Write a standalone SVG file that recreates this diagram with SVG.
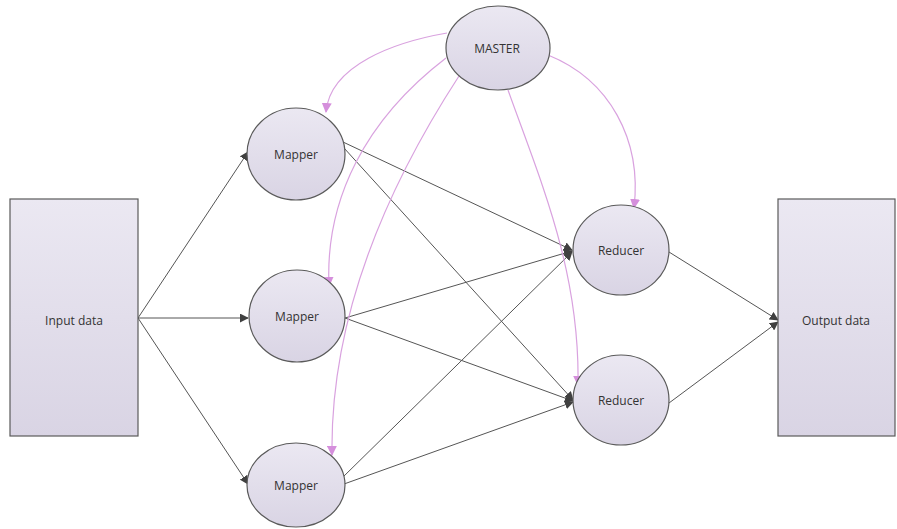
<svg xmlns="http://www.w3.org/2000/svg" width="897" height="529" viewBox="0 0 897 529">
<defs>
<linearGradient id="g" x1="0" y1="0" x2="0" y2="1">
<stop offset="0" stop-color="#ebe8f2"/>
<stop offset="1" stop-color="#d9d4e4"/>
</linearGradient>
<marker id="ab" viewBox="0 0 10 10" refX="9" refY="5" markerWidth="9" markerHeight="9" markerUnits="userSpaceOnUse" orient="auto">
<path d="M0,0 L10,5 L0,10 z" fill="#404040"/>
</marker>
<marker id="ap" viewBox="0 0 10 10" refX="9" refY="5" markerWidth="10" markerHeight="10" markerUnits="userSpaceOnUse" orient="auto">
<path d="M0,0 L10,5 L0,10 z" fill="#d58fdc"/>
</marker>
</defs>
<style>
.n{fill:url(#g);stroke:#5a5a5a;stroke-width:1.2}
.t{font-family:"Open Sans","Noto Sans",sans-serif;font-size:12px;fill:#333;text-anchor:middle;dominant-baseline:central}
.b{fill:none;stroke:#555;stroke-width:1;marker-end:url(#ab)}
.p{fill:none;stroke:#d9a2df;stroke-width:1.2;marker-end:url(#ap)}
</style>
<rect width="897" height="529" fill="#fff"/>
<g id="connectors">
<path class="b" d="M138,318 L248,152"/>
<path class="b" d="M138,318 L248,318"/>
<path class="b" d="M138,318 L248,484"/>
<path class="b" d="M343,142 L572,250"/>
<path class="b" d="M344,148 L573,400"/>
<path class="b" d="M345,318 L572,251"/>
<path class="b" d="M345,318 L573,401"/>
<path class="b" d="M342,478 L572,252"/>
<path class="b" d="M344,484 L573,402"/>
<path class="b" d="M669,252 L778,320"/>
<path class="b" d="M669,403 L778,322"/>
<path class="p" d="M447,33 C395,42 330,65 326,112"/>
<path class="p" d="M446,58 C365,120 325,200 329,286"/>
<path class="p" d="M459,76 C385,190 330,320 332,455"/>
<path class="p" d="M508,90 C540,180 580,270 578,385"/>
<path class="p" d="M548,55 C610,80 642,140 634,208"/>
</g>
<g id="input"><rect class="n" x="10" y="199" width="128" height="237"/><text class="t" x="74" y="320">Input data</text></g>
<g id="output"><rect class="n" x="778" y="199" width="117" height="237"/><text class="t" x="836" y="320">Output data</text></g>
<g id="master"><ellipse class="n" cx="498" cy="48" rx="52" ry="42"/><text class="t" x="497" y="48">MASTER</text></g>
<g id="mapper1"><ellipse class="n" cx="296" cy="154" rx="49" ry="46"/><text class="t" x="296" y="154">Mapper</text></g>
<g id="mapper2"><ellipse class="n" cx="297" cy="316" rx="48" ry="46"/><text class="t" x="297" y="316">Mapper</text></g>
<g id="mapper3"><ellipse class="n" cx="296" cy="485" rx="49" ry="42"/><text class="t" x="296" y="485">Mapper</text></g>
<g id="reducer1"><ellipse class="n" cx="621" cy="250" rx="48" ry="45"/><text class="t" x="621" y="250">Reducer</text></g>
<g id="reducer2"><ellipse class="n" cx="621" cy="400" rx="48" ry="45"/><text class="t" x="621" y="400">Reducer</text></g>
</svg>
